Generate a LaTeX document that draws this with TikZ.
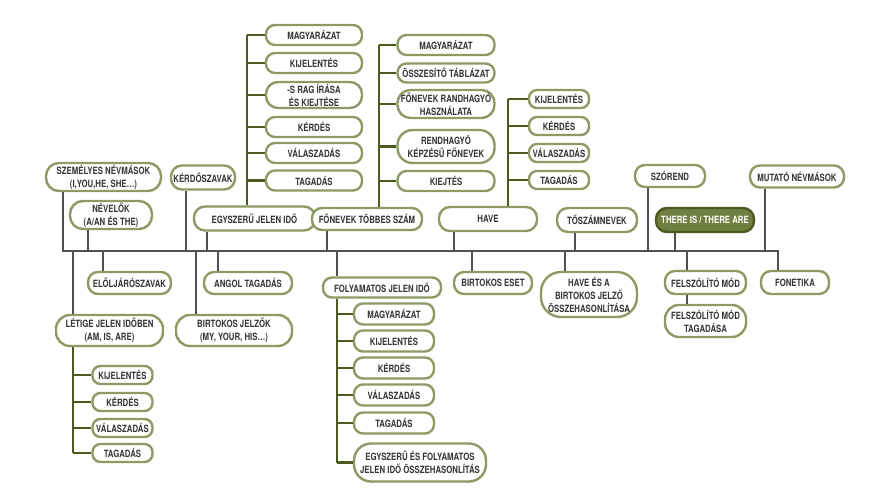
\documentclass[tikz,border=0pt]{standalone}
\usepackage{fontspec}
\newfontfamily\cnd{TeX Gyre Heros}[FakeStretch=0.78]
\definecolor{bord}{HTML}{8C9A63}
\definecolor{dgreen}{HTML}{4B5A1F}
\definecolor{mgray}{HTML}{505050}
\definecolor{txt}{HTML}{363636}
\definecolor{thfill}{HTML}{6E803F}
\begin{document}
\begin{tikzpicture}[x=1pt,y=-1pt,
  bx/.style n args={3}{draw=bord, line width=2.4pt, fill=white, text=txt,
     minimum width=#1pt, minimum height=#2pt, rounded corners=#3pt,
     inner sep=0pt, align=center, font=\cnd\bfseries\fontsize{10}{13}\selectfont},
  gline/.style={draw=mgray, line width=2.6pt},
  tline/.style={draw=dgreen, line width=2.8pt}]
\useasboundingbox[fill=white] (0,0) rectangle (888,500);

% main line
\coordinate (L) at (63,251);
\coordinate (R) at (778,251);
\draw[gline, line cap=rect] (L) -- (R);

% connector points on main line
\foreach \n/\x in {a/63,b/88,c/186,d/207,e/327,f/454,g/575,h/648,i/675,j/765,
                   k/73,l/103,m/196,n/218,o/337,p/472,q/565,r/687,s/778}
  \coordinate (m\n) at (\x,251);

% column coordinates
\coordinate (c1) at (247,0);
\coordinate (c2) at (379,0);
\coordinate (c3) at (508,0);
\coordinate (c4) at (73,0);
\coordinate (c5) at (337,0);

% ---------- nodes above ----------
\node[bx={115}{28}{13}] (szem) at (103.5,177) {SZEMÉLYES NÉVMÁSOK\\(I,YOU,HE, SHE…)};
\node[bx={82}{28}{13}] (nevel) at (111,215) {NÉVELŐK\\(A/AN ÉS THE)};
\node[bx={64}{24}{11}] (kerd) at (203,177.5) {KÉRDŐSZAVAK};
\node[bx={121}{24}{11}] (ejid) at (254.5,218.5) {EGYSZERŰ JELEN IDŐ};
\node[bx={110}{22}{10}] (fon) at (367,219) {FŐNEVEK TÖBBES SZÁM};
\node[bx={98}{24}{11}] (have) at (488,219) {HAVE};
\node[bx={80}{24}{11}] (tosz) at (597,220) {TŐSZÁMNEVEK};
\node[bx={70}{22}{10}] (szor) at (670,176) {SZÓREND};
\node[bx={98}{24}{11}, fill=thfill, draw=dgreen, text=white] (there) at (705,220) {THERE IS / THERE ARE};
\node[bx={94}{22}{10}] (muta) at (797,176.5) {MUTATÓ NÉVMÁSOK};

% EGYSZERŰ column
\node[bx={96}{20}{9}] (ej1) at (314,35) {MAGYARÁZAT};
\node[bx={96}{20}{9}] (ej2) at (314,63) {KIJELENTÉS};
\node[bx={96}{26}{12}] (ej3) at (314,95) {-S RAG ÍRÁSA\\ÉS KIEJTÉSE};
\node[bx={96}{20}{9}] (ej4) at (314,127) {KÉRDÉS};
\node[bx={96}{20}{9}] (ej5) at (314,153) {VÁLASZADÁS};
\node[bx={96}{20}{9}] (ej6) at (314,180.5) {TAGADÁS};

% FŐNEVEK column
\node[bx={97}{20}{9}] (fn1) at (446,45) {MAGYARÁZAT};
\node[bx={97}{19}{9}] (fn2) at (446,73) {ÖSSZESÍTŐ TÁBLÁZAT};
\node[bx={97}{28}{13}] (fn3) at (446,104) {FŐNEVEK RANDHAGYÓ\\HASZNÁLATA};
\node[bx={97}{33}{15}] (fn4) at (446,146.5) {RENDHAGYÓ\\KÉPZÉSŰ FŐNEVEK};
\node[bx={97}{20}{9}] (fn5) at (446,181) {KIEJTÉS};

% HAVE column
\node[bx={60}{18}{8}] (hv1) at (559,99) {KIJELENTÉS};
\node[bx={60}{18}{8}] (hv2) at (559,126) {KÉRDÉS};
\node[bx={60}{18}{8}] (hv3) at (559,153) {VÁLASZADÁS};
\node[bx={60}{18}{8}] (hv4) at (559,180) {TAGADÁS};

% ---------- nodes below ----------
\node[bx={83}{22}{10}] (elol) at (129.5,283) {ELŐLJÁRÓSZAVAK};
\node[bx={88}{22}{10}] (angol) at (248,283) {ANGOL TAGADÁS};
\node[bx={107}{31}{14}] (letige) at (109.5,330.5) {LÉTIGE JELEN IDŐBEN\\(AM, IS, ARE)};
\node[bx={116}{31}{14}] (birtj) at (234,330.5) {BIRTOKOS JELZŐK\\(MY, YOUR, HIS…)};
\node[bx={118}{20}{9}] (foly) at (382,287.5) {FOLYAMATOS JELEN IDŐ};
\node[bx={78}{22}{10}] (bese) at (493,283) {BIRTOKOS ESET};
\node[bx={96}{45}{20}] (haveb) at (589,294.5) {HAVE ÉS A\\BIRTOKOS JELZŐ\\ÖSSZEHASONLÍTÁSA};
\node[bx={81}{23}{10}] (felsz) at (705.5,282.5) {FELSZÓLÍTÓ MÓD};
\node[bx={81}{32}{14}] (felszt) at (705.5,321) {FELSZÓLÍTÓ MÓD\\TAGADÁSA};
\node[bx={68}{23}{10}] (fonet) at (795,282.5) {FONETIKA};

% LÉTIGE column
\node[bx={60}{18}{8}] (lt1) at (122.5,375) {KIJELENTÉS};
\node[bx={60}{18}{8}] (lt2) at (122.5,402) {KÉRDÉS};
\node[bx={60}{18}{8}] (lt3) at (122.5,428) {VÁLASZADÁS};
\node[bx={60}{18}{8}] (lt4) at (122.5,453) {TAGADÁS};

% FOLYAMATOS column
\node[bx={80}{21}{9}] (fo1) at (394,314) {MAGYARÁZAT};
\node[bx={80}{21}{9}] (fo2) at (394,341) {KIJELENTÉS};
\node[bx={80}{21}{9}] (fo3) at (394,368) {KÉRDÉS};
\node[bx={80}{21}{9}] (fo4) at (394,395) {VÁLASZADÁS};
\node[bx={80}{21}{9}] (fo5) at (394,423) {TAGADÁS};
\node[bx={132}{38}{17}] (fo6) at (420,462.5) {EGYSZERŰ ÉS FOLYAMATOS\\JELEN IDŐ ÖSSZEHASONLÍTÁS};

% ---------- gray connectors ----------
\draw[gline] (ma |- szem.south) -- (ma);
\draw[gline] (mb |- nevel.south) -- (mb);
\draw[gline] (mc |- kerd.south) -- (mc);
\draw[gline] (md |- ejid.south) -- (md);
\draw[gline] (me |- fon.south) -- (me);
\draw[gline] (mf |- have.south) -- (mf);
\draw[gline] (mg |- tosz.south) -- (mg);
\draw[gline] (mh |- szor.south) -- (mh);
\draw[gline] (mi |- there.south) -- (mi);
\draw[gline] (mj |- muta.south) -- (mj);
\draw[gline] (mk) -- (mk |- letige.north);
\draw[gline] (ml) -- (ml |- elol.north);
\draw[gline] (mm) -- (mm |- birtj.north);
\draw[gline] (mn) -- (mn |- angol.north);
\draw[gline] (mo) -- (mo |- foly.north);
\draw[gline] (mp) -- (mp |- bese.north);
\draw[gline] (mq) -- (mq |- haveb.north);
\draw[gline] (mr) -- (mr |- felsz.north);
\draw[gline] (ms) -- (ms |- fonet.north);
\draw[gline] (mr |- felsz.south) -- (mr |- felszt.north);

% ---------- green tree lines ----------
\draw[tline] (c1 |- ej1) -- (c1 |- ejid.north);
\foreach \k in {ej1,ej2,ej3,ej4,ej5,ej6} \draw[tline] (c1 |- \k) -- (\k.west);
\draw[tline] (c2 |- fn1) -- (c2 |- fon.north);
\foreach \k in {fn1,fn2,fn3,fn4,fn5} \draw[tline] (c2 |- \k) -- (\k.west);
\draw[tline] (c3 |- hv1) -- (c3 |- have.north);
\foreach \k in {hv1,hv2,hv3,hv4} \draw[tline] (c3 |- \k) -- (\k.west);
\draw[tline] (c4 |- letige.south) -- (c4 |- lt4);
\foreach \k in {lt1,lt2,lt3,lt4} \draw[tline] (c4 |- \k) -- (\k.west);
\draw[tline] (c5 |- foly.south) -- (c5 |- fo6);
\foreach \k in {fo1,fo2,fo3,fo4,fo5,fo6} \draw[tline] (c5 |- \k) -- (\k.west);
\end{tikzpicture}
\end{document}
